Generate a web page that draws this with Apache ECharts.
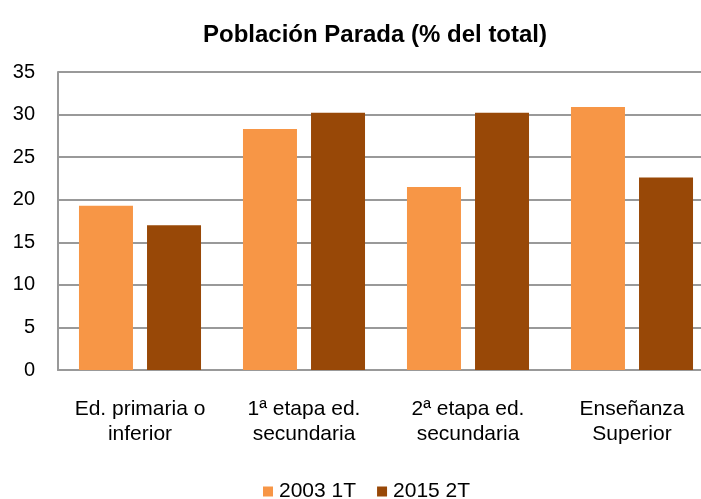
<!DOCTYPE html>
<html>
<head>
<meta charset="utf-8">
<script src="https://cdn.jsdelivr.net/npm/echarts@6/dist/echarts.min.js"></script>
<style>
html, body { margin: 0; padding: 0; background: #fff; overflow: hidden; }
#chart { width: 714px; height: 499px; }
</style>
</head>
<body>
<div id="chart"></div>
<script>
// datos
var categorias = ['Ed. primaria o\ninferior', '1ª etapa ed.\nsecundaria', '2ª etapa ed.\nsecundaria', 'Enseñanza\nSuperior'];
var serie2003 = [19.3, 28.3, 21.5, 30.9];
var serie2015 = [17.0, 30.2, 30.2, 22.6];

// el área de dibujo sigue más allá del borde derecho (714px), se recorta a 701
var myChart = echarts.init(document.getElementById('chart'));

var option = {
    animation: false,
    textStyle: { fontFamily: 'Liberation Sans, Arial, sans-serif' },
    title: {
        text: 'Población Parada (% del total)',
        left: 370,
        textAlign: 'center',
        top: 18,
        textStyle: { fontSize: 24, fontWeight: 'bold', color: '#000' }
    },
    legend: {
        top: 481,
        left: 263,
        padding: 0,
        itemWidth: 10,
        itemHeight: 10,
        itemGap: 21,
        icon: 'rect',
        textStyle: { fontSize: 21, color: '#000', padding: [2, 0, 0, 1] },
        data: ['2003 1T', '2015 2T']
    },
    grid: { left: 58, right: 0, top: 72, bottom: 129, containLabel: false },
    xAxis: {
        type: 'category',
        data: categorias,
        axisLine: { lineStyle: { color: '#999', width: 2 } },
        axisTick: { show: false },
        axisLabel: { color: '#000', fontSize: 21, lineHeight: 25, margin: 27, interval: 0 }
    },
    yAxis: {
        type: 'value',
        min: 0,
        max: 35,
        interval: 5,
        axisLine: { show: true, lineStyle: { color: '#999', width: 2 } },
        axisTick: { show: false },
        axisLabel: { color: '#000', fontSize: 20, margin: 23 },
        splitLine: { lineStyle: { color: '#999', width: 2 } }
    },
    series: [
        {
            name: '2003 1T',
            type: 'bar',
            data: serie2003,
            barWidth: 54,
            barGap: '26%',
            itemStyle: { color: '#F79646' }
        },
        {
            name: '2015 2T',
            type: 'bar',
            data: serie2015,
            barWidth: 54,
            itemStyle: { color: '#984807' }
        }
    ]
};

myChart.setOption(option);
</script>
</body>
</html>
